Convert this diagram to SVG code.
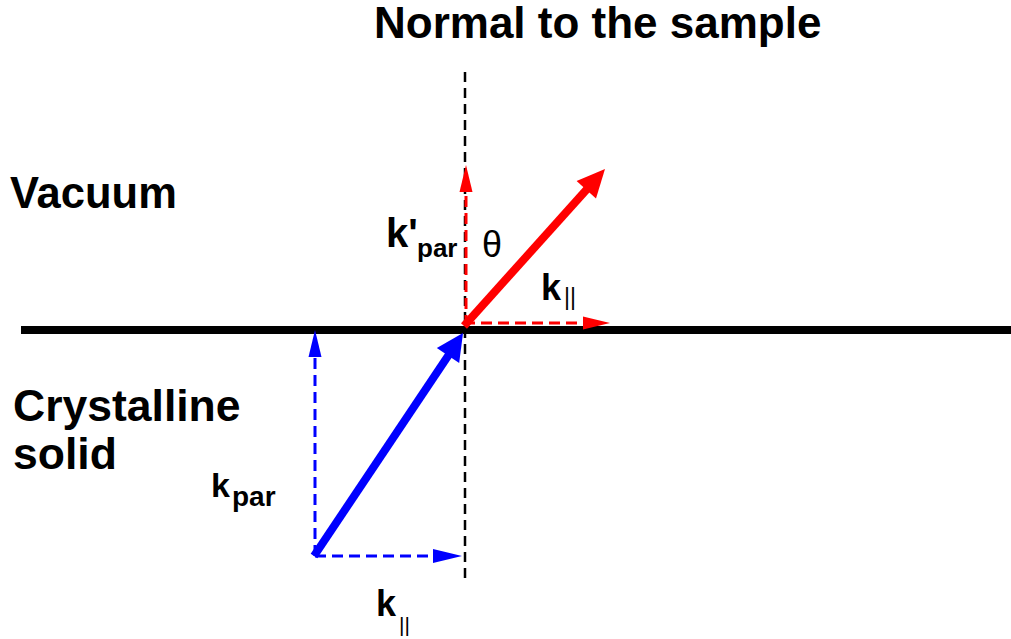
<svg xmlns="http://www.w3.org/2000/svg" width="1011" height="639" viewBox="0 0 1011 639">
<style>
.t{font-family:"Liberation Sans",Arial,sans-serif;font-weight:bold;fill:#000}
.n{font-family:"Liberation Sans",Arial,sans-serif;font-weight:normal;fill:#000}
.dk{stroke:#000;stroke-width:2.5;stroke-dasharray:10 6;fill:none}
.dr{stroke:#FF0000;stroke-width:3;stroke-dasharray:11 6;fill:none}
.db{stroke:#0000FF;stroke-width:3;stroke-dasharray:11 6;fill:none}
.sr{stroke:#FF0000;stroke-width:8;fill:none}
.sb{stroke:#0000FF;stroke-width:8;fill:none}
.hr{fill:#FF0000}
.hb{fill:#0000FF}
</style>
<rect width="1011" height="639" fill="#fff"/>
<g id="surface">
<line x1="21" y1="330" x2="1011" y2="330" stroke="#000" stroke-width="8"/>
</g>
<g id="connectors">
<line class="dk" x1="465" y1="72" x2="465" y2="578"/>
<line class="dr" x1="466" y1="326" x2="466" y2="190"/>
<polygon class="hr" points="466,165 459.5,192 472.5,192"/>
<line class="dr" x1="464" y1="323" x2="585" y2="323"/>
<polygon class="hr" points="610,323 583,316.5 583,329.5"/>
<line class="sr" x1="464" y1="326" x2="588" y2="188"/>
<polygon class="hr" points="605,169 596,198.5 576.6,181.1"/>
<line class="db" x1="315" y1="556" x2="315" y2="355"/>
<polygon class="hb" points="315,330 308.5,357 321.5,357"/>
<line class="db" x1="315" y1="556" x2="435" y2="556"/>
<polygon class="hb" points="462,556 433,549 433,563"/>
<line class="sb" x1="314" y1="556" x2="450" y2="353"/>
<polygon class="hb" points="463,333 459.2,362.9 436.8,347.9"/>
</g>
<g id="title"><text class="t" x="374" y="38" font-size="44">Normal to the sample</text></g>
<g id="vacuum"><text class="t" x="10" y="208" font-size="43.5">Vacuum</text></g>
<g id="crystalline-solid">
<text class="t" x="13" y="421" font-size="44.5">Crystalline</text>
<text class="t" x="13" y="469" font-size="44.5">solid</text>
</g>
<g id="label-kprime-par"><text class="t" x="386" y="247" font-size="40">k'<tspan x="417" y="257" font-size="26">par</tspan></text></g>
<g id="label-theta"><text class="n" x="482" y="257" font-size="36">θ</text></g>
<g id="label-k-parallel-red"><text class="t" x="541" y="300" font-size="36">k</text><text class="n" x="564" y="305" font-size="23">||</text></g>
<g id="label-k-par-blue"><text class="t" x="211" y="497" font-size="34">k<tspan x="232" y="506" font-size="28">par</tspan></text></g>
<g id="label-k-parallel-blue"><text class="t" x="376" y="616" font-size="36">k</text><text class="n" x="399" y="632" font-size="21">||</text></g>
</svg>
